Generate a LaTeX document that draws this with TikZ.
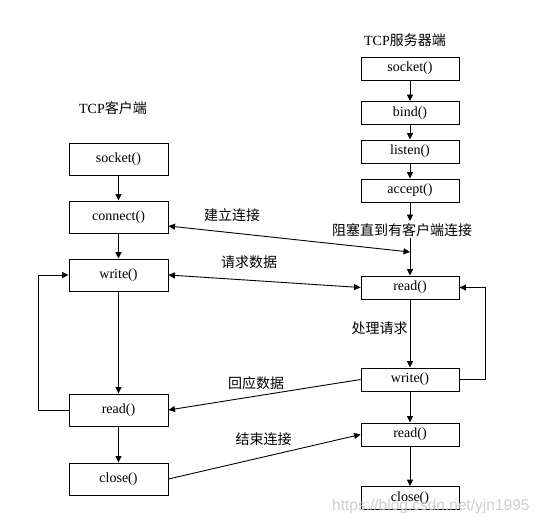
\documentclass[tikz,border=0pt]{standalone}
\usepackage{fontspec}
\setmainfont{Liberation Serif}
\newfontfamily\cjk{Noto Sans CJK SC}
\newfontfamily\wmfont{Liberation Sans}
\usetikzlibrary{arrows.meta,calc}
\tikzset{
  x=1pt, y=-1pt,
  line/.style={line width=0.9pt, draw=black},
  arr/.style={line, -{Triangle[length=6.5pt,width=6pt]}},
  arrboth/.style={line, {Triangle[length=6.5pt,width=6pt]}-{Triangle[length=6.5pt,width=6pt]}},
  cbox/.style={draw, line width=0.9pt, minimum width=99pt, minimum height=32pt, inner sep=0pt,
               font=\fontsize{14}{16}\selectfont},
  sbox/.style={draw, line width=0.9pt, minimum width=98pt, minimum height=23pt, inner sep=0pt,
               font=\fontsize{14}{16}\selectfont},
  lbl/.style={inner sep=0pt, font=\fontsize{14}{16}\selectfont\cjk},
  ttl/.style={inner sep=0pt, font=\fontsize{14}{16}\selectfont},
}
\begin{document}
\begin{tikzpicture}
\useasboundingbox (0,0) rectangle (541,524);
\fill[white] (0,0) rectangle (541,524);

% titles
\node[ttl] (ctitle) at (113,108) {TCP{\cjk 客户端}};
\node[ttl] (stitle) at (405,40) {TCP{\cjk 服务器端}};

% client boxes
\node[cbox] (csock)  at (118.5,159) {socket()};
\node[cbox] (cconn)  at (118.5,217) {connect()};
\node[cbox] (cwrite) at (118.5,275) {write()};
\node[cbox] (cread)  at (118.5,410) {read()};
\node[cbox] (cclose) at (118.5,479) {close()};

% server boxes
\node[sbox] (ssock)   at (410,68.5)  {socket()};
\node[sbox] (sbind)   at (410,113)   {bind()};
\node[sbox] (slisten) at (410,151.5) {listen()};
\node[sbox] (saccept) at (410,190.5) {accept()};
\node[sbox] (sread)   at (410,287.5) {read()};
\node[sbox] (swrite)  at (410,379.5) {write()};
\node[sbox] (sread2)  at (410,434.5) {read()};
\node[sbox] (sclose)  at (410,498)   {close()};

% labels
\node[lbl] (l1) at (232,215) {建立连接};
\node[lbl] (l2) at (249,262) {请求数据};
\node[lbl] (l3) at (402,230) {阻塞直到有客户端连接};
\node[lbl] (l4) at (379.5,328) {处理请求};
\node[lbl] (l5) at (256,383) {回应数据};
\node[lbl] (l6) at (263.5,439) {结束连接};

% helper coordinates
\coordinate (acend) at (410,221);
\coordinate (acrest) at (410,238);
\coordinate (join) at (410,252);
\coordinate (connout) at (168.5,226);

% client flow
\draw[arr] (csock) -- (cconn);
\draw[arr] (cconn) -- (cwrite);
\draw[arr] (cwrite) -- (cread);
\draw[arr] (cread) -- (cclose);
\draw[arr] (cread.west) -- ++(-30,0) |- (cwrite.west);

% server flow
\draw[arr] (ssock) -- (sbind);
\draw[arr] (sbind) -- (slisten);
\draw[arr] (slisten) -- (saccept);
\draw[arr] (saccept) -- (acend);
\draw[arr] (acrest) -- (sread);
\draw[arr] (sread) -- (swrite);
\draw[arr] (swrite) -- (sread2);
\draw[arr] (sread2) -- (sclose);
\draw[arr] (swrite.east) -- ++(26,0) |- (sread.east);

% cross connections
\draw[arrboth] (connout) -- (join);
\draw[arrboth] (cwrite.east) -- (sread.west);
\draw[arr] (swrite.west) -- (cread.east);
\draw[arr] (cclose.east) -- (sread2.west);

% watermark
\node[anchor=base west, inner sep=0pt, text=gray!45, opacity=0.85,
      font=\fontsize{15.5}{17}\selectfont\wmfont] (wm) at (332,510) {https://blog.csdn.net/yjn1995};
\end{tikzpicture}
\end{document}
